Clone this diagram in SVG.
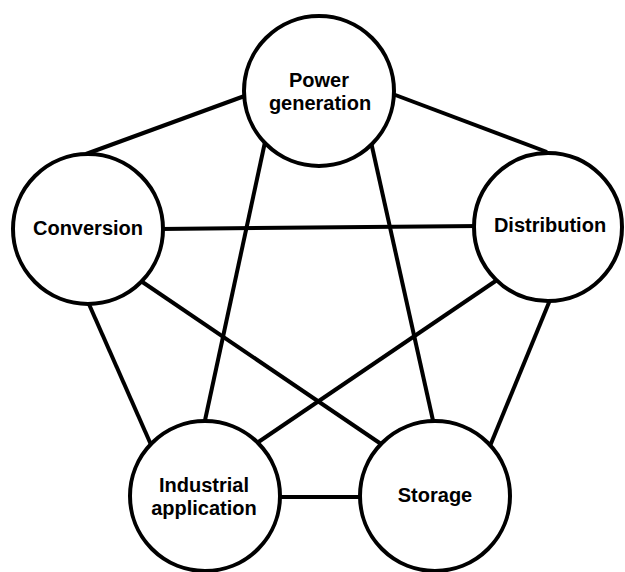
<svg xmlns="http://www.w3.org/2000/svg" width="625" height="572" viewBox="0 0 625 572">
<style>
.edge{stroke:#000;stroke-width:4;fill:none;stroke-linecap:butt}
.node{fill:#fff;stroke:#000;stroke-width:4}
.lbl{font-family:"Liberation Sans",Arial,sans-serif;font-weight:bold;font-size:20px;fill:#000;text-anchor:middle}
</style>
<rect width="625" height="572" fill="#fff"/>
<g id="connectors">
<line class="edge" x1="250" y1="94" x2="86" y2="154"/>
<line class="edge" x1="390" y1="93" x2="547" y2="152"/>
<line class="edge" x1="160" y1="229" x2="480" y2="226"/>
<line class="edge" x1="265" y1="142" x2="204" y2="425"/>
<line class="edge" x1="371" y1="142" x2="434" y2="425"/>
<line class="edge" x1="88" y1="302" x2="152" y2="447"/>
<line class="edge" x1="138" y1="279" x2="384" y2="446"/>
<line class="edge" x1="500" y1="278" x2="254" y2="445"/>
<line class="edge" x1="550" y1="300" x2="490" y2="446"/>
<line class="edge" x1="276" y1="497" x2="364" y2="497"/>
</g>
<g id="power-generation">
<circle class="node" cx="319" cy="91" r="75"/>
<text class="lbl" x="319" y="87">Power</text>
<text class="lbl" x="320" y="110">generation</text>
</g>
<g id="conversion">
<circle class="node" cx="88" cy="229" r="75"/>
<text class="lbl" x="88" y="235">Conversion</text>
</g>
<g id="distribution">
<circle class="node" cx="548" cy="227" r="74"/>
<text class="lbl" x="550" y="232">Distribution</text>
</g>
<g id="industrial-application">
<circle class="node" cx="205" cy="496" r="75"/>
<text class="lbl" x="204" y="492">Industrial</text>
<text class="lbl" x="204" y="515">application</text>
</g>
<g id="storage">
<circle class="node" cx="435" cy="496" r="75"/>
<text class="lbl" x="435" y="502">Storage</text>
</g>
</svg>
